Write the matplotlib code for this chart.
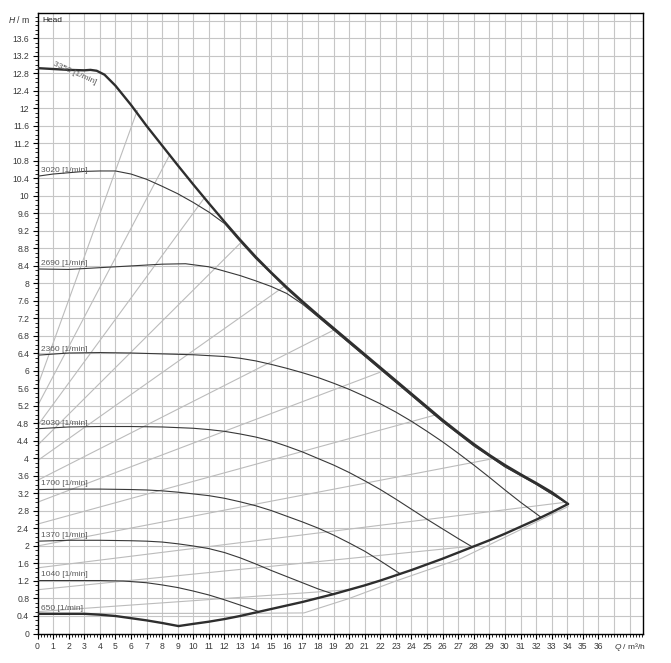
import matplotlib
matplotlib.use("Agg")
import matplotlib.pyplot as plt
from matplotlib.ticker import MultipleLocator, FixedLocator

plt.rcParams["font.family"] = ["Liberation Sans", "DejaVu Sans"]
plt.rcParams["mathtext.fontset"] = "custom"
plt.rcParams["mathtext.it"] = "Liberation Sans:italic"
plt.rcParams["mathtext.rm"] = "Liberation Sans"

# ---------------- data ----------------
# envelope / max curve (3350 1/min)
q_max = [0, 1, 2, 3, 3.4, 3.8, 4.3, 5, 6, 7, 8, 9, 10, 11, 12, 13, 14, 15, 16, 17, 18, 19,
         20, 21, 22, 23, 24, 25, 26, 27, 28, 29, 30, 31, 32, 33, 34.05]
h_max = [12.92, 12.9, 12.88, 12.87, 12.88, 12.86, 12.77, 12.52, 12.08, 11.6, 11.15, 10.7,
         10.26, 9.83, 9.41, 9.0, 8.61, 8.25, 7.91, 7.59, 7.28, 6.98, 6.68, 6.38, 6.08,
         5.78, 5.48, 5.18, 4.88, 4.6, 4.33, 4.08, 3.85, 3.64, 3.44, 3.23, 2.96]

# lower limit (min curve)
q_min = [9.05, 10, 11, 12, 13, 14, 15, 16, 17, 18, 19, 20, 21, 22, 23, 24, 25, 26, 27,
         28, 29, 30, 31, 32, 33, 34.05]
h_min = [0.17, 0.22, 0.27, 0.33, 0.40, 0.48, 0.56, 0.64, 0.72, 0.81, 0.9, 1.0, 1.1, 1.21,
         1.33, 1.45, 1.58, 1.71, 1.85, 1.99, 2.13, 2.28, 2.44, 2.6, 2.77, 2.96]

# speed curves
q_3020 = [0, 1, 2, 3, 4, 5, 6, 7, 8, 9, 10, 11, 12, 13, 14, 16, 18, 20, 22, 24, 26, 28, 30, 32, 34.05]
h_3020 = [10.45, 10.5, 10.53, 10.56, 10.57, 10.57, 10.5, 10.38, 10.22, 10.05, 9.85, 9.63,
          9.37, 8.96, 8.57, 7.87, 7.24, 6.64, 6.04, 5.44, 4.84, 4.29, 3.81, 3.41, 2.96]
q_2690 = [0, 2, 4, 6, 8, 9.5, 11, 12, 13, 14, 15, 16, 17, 18, 20, 22, 24, 26, 28, 30, 32, 34.05]
h_2690 = [8.33, 8.32, 8.36, 8.4, 8.44, 8.45, 8.38, 8.28, 8.18, 8.06, 7.93, 7.77, 7.53,
          7.24, 6.64, 6.04, 5.44, 4.84, 4.29, 3.81, 3.41, 2.96]
q_2360 = [0, 2, 4, 6, 8, 10, 12, 13, 14, 15, 16, 17, 18, 19, 20, 21, 22, 23, 24, 25, 26,
          27, 28, 29, 30, 31, 32.3]
h_2360 = [6.36, 6.41, 6.42, 6.41, 6.39, 6.37, 6.33, 6.29, 6.23, 6.15, 6.06, 5.96, 5.85,
          5.72, 5.58, 5.42, 5.25, 5.06, 4.85, 4.62, 4.38, 4.12, 3.85, 3.57, 3.28, 3.0, 2.66]
q_2030 = [0, 2, 4, 6, 8, 10, 11, 12, 13, 14, 15, 16, 17, 18, 19, 20, 21, 22, 23, 24, 25,
          26, 27, 27.9]
h_2030 = [4.68, 4.72, 4.73, 4.73, 4.72, 4.69, 4.66, 4.62, 4.56, 4.49, 4.4, 4.28, 4.15,
          4.0, 3.85, 3.68, 3.49, 3.29, 3.07, 2.84, 2.61, 2.39, 2.17, 1.98]
q_1700 = [0, 2, 4, 6, 7, 8, 9, 10, 11, 12, 13, 14, 15, 16, 17, 18, 19, 20, 21, 22, 23.3]
h_1700 = [3.29, 3.3, 3.3, 3.29, 3.28, 3.26, 3.23, 3.19, 3.15, 3.09, 3.01, 2.92, 2.81,
          2.68, 2.55, 2.41, 2.25, 2.07, 1.88, 1.66, 1.36]
q_1370 = [0, 2, 4, 6, 7, 8, 9, 10, 11, 12, 13, 14, 15, 16, 17, 18, 19]
h_1370 = [2.11, 2.13, 2.13, 2.12, 2.11, 2.09, 2.05, 2.0, 1.94, 1.85, 1.73, 1.59, 1.44,
          1.3, 1.16, 1.02, 0.9]
q_1040 = [0, 2, 4, 5.5, 7, 8, 9, 10, 11, 12, 13, 14.2]
h_1040 = [1.21, 1.21, 1.21, 1.2, 1.16, 1.11, 1.05, 0.97, 0.88, 0.77, 0.65, 0.5]
q_650 = [0, 2, 3, 4, 5, 6, 7, 8, 9.05]
h_650 = [0.45, 0.45, 0.45, 0.43, 0.4, 0.35, 0.3, 0.24, 0.17]

speed_labels = ["3020 [1/min]", "2690 [1/min]", "2360 [1/min]", "2030 [1/min]",
                "1700 [1/min]", "1370 [1/min]", "1040 [1/min]", "650 [1/min]"]
max_label = "3350 [1/min]"

# control lines (grey): head at Q=0 and end point on the limit curves
ctl_h0 = [5.65, 5.2, 4.75, 4.3, 3.95, 3.5, 3.0, 2.5, 2.0, 1.5, 1.0, 0.5]
ctl_qend = [6.4, 8.5, 10.7, 13.1, 15.9, 19.1, 22.2, 25.6, 29.3, 33.9, 28.0, 20.0]
ctl_hend = [11.95, 10.95, 9.95, 8.95, 7.95, 6.95, 6.0, 5.0, 4.0, 3.0, 2.0, 1.0]

# grey lower limit line
q_low = [0, 13.0, 17.1, 20, 23, 27.15, 30, 34.05]
h_low = [0.46, 0.46, 0.47, 0.8, 1.2, 1.71, 2.2, 2.9]

x_ticks = list(range(0, 37))
y_ticks = [round(0.4 * i, 1) for i in range(0, 35)]

# ---------------- figure ----------------
W, H = 671, 663
fig = plt.figure(figsize=(W / 100, H / 100), dpi=100)
fig.patch.set_facecolor("white")
ax = fig.add_axes([37.5 / W, (H - 633.5) / H, 605.5 / W, 620.5 / H])
ax.set_xlim(0, 38.86)
ax.set_ylim(0, 14.18)

grid_c = "#c6c6c6"
for x in range(1, 39):
    ax.axvline(x, color=grid_c, lw=0.8, zorder=0)
for i in range(1, 36):
    ax.axhline(0.4 * i, color=grid_c, lw=0.8, zorder=0)

grey = "#bcbcbc"
for h0, qe, he in zip(ctl_h0, ctl_qend, ctl_hend):
    ax.plot([0, qe], [h0, he], color=grey, lw=0.8, zorder=1)
ax.plot(q_low, h_low, color=grey, lw=0.8, zorder=1)

dark = "#2e2e2e"
thin = "#383838"
curves = [(q_3020, h_3020), (q_2690, h_2690), (q_2360, h_2360), (q_2030, h_2030),
          (q_1700, h_1700), (q_1370, h_1370), (q_1040, h_1040)]
for (q, h) in curves:
    ax.plot(q, h, color=thin, lw=0.8, zorder=3)
ax.plot(q_650, h_650, color=dark, lw=1.7, zorder=4, solid_capstyle="round")
ax.plot(q_min, h_min, color=dark, lw=1.7, zorder=4, solid_capstyle="round")
ax.plot(q_max, h_max, color=dark, lw=1.7, zorder=4, solid_capstyle="round")

lab_c = "#5a5a5a"
fs = 6.0
for (q, h), lab in zip(curves + [(q_650, h_650)], speed_labels):
    ax.text(0.2, h[0] + 0.05, lab, fontsize=fs, color=lab_c, ha="left", va="bottom", zorder=5)
ax.text(1.0, 13.02, max_label, fontsize=fs, color=lab_c, ha="left", va="center",
        rotation=-24, rotation_mode="anchor", zorder=5)

ax.text(0.3, 14.0, "Head", fontsize=6.0, color="#222222", ha="left", va="center")
ax.text(-0.45, 14.04, r"$\mathit{H}$ / m", fontsize=6.2, color="#333333", ha="right",
        va="center", clip_on=False)
ax.text(37.0, -0.31, r"$\mathit{Q}$ / m³/h", fontsize=6.0, color="#333333", ha="left",
        va="center", clip_on=False)

ax.xaxis.set_major_locator(FixedLocator(x_ticks))
ax.xaxis.set_minor_locator(MultipleLocator(0.2))
ax.yaxis.set_major_locator(FixedLocator(y_ticks))
ax.yaxis.set_minor_locator(MultipleLocator(0.1))
ax.set_xticklabels([str(v) for v in x_ticks])
ax.set_yticklabels([("%g" % v) for v in y_ticks])
ax.tick_params(axis="both", which="major", length=3.5, width=0.8, labelsize=6.2,
               labelcolor="#3a3a3a", pad=2.5, direction="out")
ax.tick_params(axis="both", which="minor", length=2.2, width=0.6, direction="out")
ax.tick_params(axis="y", which="both", right=False)
ax.tick_params(axis="x", which="both", top=False)
for s in ax.spines.values():
    s.set_linewidth(1.0)
    s.set_color("black")

fig.savefig("out.png", dpi=100, facecolor="white")
